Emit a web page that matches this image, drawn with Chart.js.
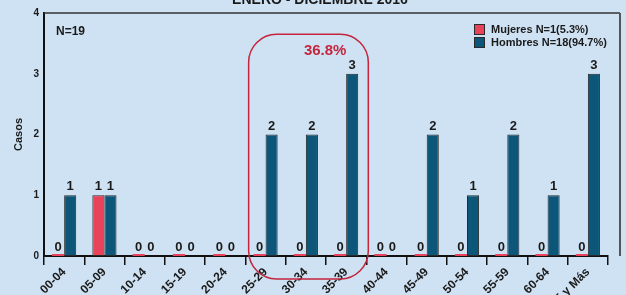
<!DOCTYPE html>
<html>
<head>
<meta charset="utf-8">
<script src="https://cdn.jsdelivr.net/npm/chart.js@4/dist/chart.umd.min.js"></script>
<style>
  body { margin: 0; background: #cfe2f3; }
  canvas { display: block; }
</style>
</head>
<body>
<canvas id="myChart" width="626" height="295"></canvas>
<script>
// data
var grupos = ['00-04', '05-09', '10-14', '15-19', '20-24', '25-29', '30-34',
              '35-39', '40-44', '45-49', '50-54', '55-59', '60-64', '65 y Más'];
var mujeres = [0, 1, 0, 0, 0, 0, 0, 0, 0, 0, 0, 0, 0, 0];
var hombres = [1, 1, 0, 0, 0, 2, 2, 3, 0, 2, 1, 2, 1, 3];
var yMax = 4;
var titulo = 'ENERO - DICIEMBRE 2016';
var totalTexto = 'N=19';
var rangoTexto = '36.8%';
var rangoDesde = 5, rangoHasta = 7;   // 25-29 .. 35-39
var leyenda = ['Mujeres N=1(5.3%)', 'Hombres N=18(94.7%)'];

var colours = {
  rojo: '#e8435a',
  azul: '#0b5679',
  borde: '#2a2a2a',
  marco: '#c4253d',
  texto: '#1a1a1a'
};
var fuente = 'Arial, "Liberation Sans", sans-serif';

var ctx = document.getElementById('myChart').getContext('2d');

// labels, legend, frame and the red box
var extras = {
  id: 'extras',
  afterDatasetsDraw: function(chart) {
    var c = chart.ctx, a = chart.chartArea;
    var xs = chart.scales.x, ys = chart.scales.y;
    c.save();

    // frame top / right
    c.strokeStyle = '#333';
    c.lineWidth = 1.5;
    c.beginPath();
    c.moveTo(a.left, a.top);
    c.lineTo(a.right + 12, a.top);
    c.stroke();
    c.strokeStyle = '#555';
    c.lineWidth = 2;
    c.beginPath();
    c.moveTo(a.right + 12, a.top);
    c.lineTo(a.right + 12, a.bottom);
    c.stroke();

    // values over the bars
    c.fillStyle = colours.texto;
    c.font = 'bold 13px ' + fuente;
    c.textAlign = 'center';
    c.textBaseline = 'bottom';
    chart.data.datasets.forEach(function(ds, i) {
      chart.getDatasetMeta(i).data.forEach(function(bar, j) {
        var v = ds.data[j];
        var y = v === 0 ? ys.getPixelForValue(0) : bar.y;
        c.fillText(String(v), bar.x, y - 2);
      });
    });

    // rounded box around 25-39
    var w = xs.getPixelForValue(1) - xs.getPixelForValue(0);
    var l = xs.getPixelForValue(rangoDesde) - 0.42 * w;
    var r = xs.getPixelForValue(rangoHasta) + 0.55 * w;
    var t = ys.getPixelForValue(3.65);
    var b = ys.getPixelForValue(0) + 23;
    var rad = 28;
    c.strokeStyle = colours.marco;
    c.lineWidth = 1.5;
    c.beginPath();
    c.moveTo(l + rad, t);
    c.arcTo(r, t, r, b, rad);
    c.arcTo(r, b, l, b, rad);
    c.arcTo(l, b, l, t, rad);
    c.arcTo(l, t, r, t, rad);
    c.closePath();
    c.stroke();
    c.fillStyle = colours.marco;
    c.font = 'bold 15px ' + fuente;
    c.textBaseline = 'middle';
    c.fillText(rangoTexto, xs.getPixelForValue(6) + 0.48 * w, ys.getPixelForValue(3.37));

    // N=19
    c.fillStyle = colours.texto;
    c.font = 'bold 12px ' + fuente;
    c.textAlign = 'left';
    c.fillText(totalTexto, a.left + 12, a.top + 19);

    // legend
    c.font = 'bold 11px ' + fuente;
    chart.data.datasets.forEach(function(ds, i) {
      var bx = a.right - 134, by = a.top + 11 + i * 13;
      c.fillStyle = ds.backgroundColor;
      c.fillRect(bx, by, 11, 11);
      c.strokeStyle = colours.borde;
      c.lineWidth = 1;
      c.strokeRect(bx + 0.5, by + 0.5, 10, 10);
      c.fillStyle = colours.texto;
      c.fillText(leyenda[i], bx + 17, by + 6);
    });

    // title, mostly off the top of the picture
    c.textAlign = 'center';
    c.textBaseline = 'alphabetic';
    c.font = 'bold 14px ' + fuente;
    c.fillText(titulo, chart.width / 2 + 7, 4);
    c.restore();
  }
};

var chart = new Chart(ctx, {
  type: 'bar',
  data: {
    labels: grupos,
    datasets: [{
      label: 'Mujeres',
      data: mujeres,
      backgroundColor: colours.rojo,
      borderColor: colours.borde,
      borderWidth: function(c) { return c.raw === 0 ? 0 : 1; },
      borderSkipped: false,
      minBarLength: 2
    }, {
      label: 'Hombres',
      data: hombres,
      backgroundColor: colours.azul,
      borderColor: colours.borde,
      borderWidth: 1,
      borderSkipped: false
    }]
  },
  options: {
    responsive: false,
    animation: false,
    layout: { padding: { top: 13, right: 18, left: 0, bottom: 0 } },
    datasets: { bar: { categoryPercentage: 0.6, barPercentage: 1.0 } },
    plugins: {
      legend: { display: false },
      title: { display: false },
      tooltip: { enabled: false }
    },
    scales: {
      x: {
        afterFit: function(s) { s.height = 39; },
        grid: { display: true, drawOnChartArea: false, drawTicks: true, tickLength: 9,
                color: '#111', lineWidth: 1.5, offset: true },
        border: { color: '#111', width: 2 },
        ticks: { autoSkip: false, minRotation: 45, maxRotation: 45, padding: 0,
                 color: colours.texto, font: { family: fuente, size: 12, weight: 'bold' } }
      },
      y: {
        min: 0,
        max: yMax,
        afterFit: function(s) { s.width = 44; },
        grid: { display: false, drawTicks: false },
        border: { color: '#111', width: 2 },
        ticks: { stepSize: 1, padding: 5, color: colours.texto,
                 font: { family: fuente, size: 10, weight: 'bold' } },
        title: { display: true, text: 'Casos', color: colours.texto, padding: { top: 12, bottom: 0 },
                 font: { family: fuente, size: 11, weight: 'bold' } }
      }
    }
  },
  plugins: [extras]
});
</script>
</body>
</html>
